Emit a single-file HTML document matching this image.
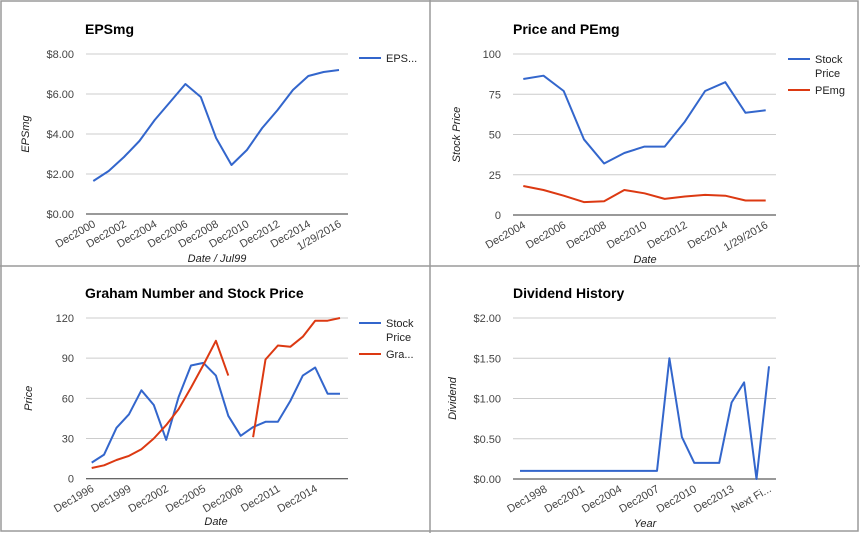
<!DOCTYPE html>
<html><head><meta charset="utf-8"><style>
html,body{margin:0;padding:0;background:#fff;}
svg{display:block;font-family:"Liberation Sans",Arial,sans-serif;}
</style></head><body>
<svg id="root" width="860" height="533" viewBox="0 0 860 533" xmlns="http://www.w3.org/2000/svg">
<rect x="1" y="1" width="857" height="530" fill="#fff" stroke="#9a9a9a" stroke-width="1.5"/>
<line x1="430" y1="0" x2="430" y2="533" stroke="#9a9a9a" stroke-width="1.5"/>
<line x1="0" y1="266" x2="860" y2="266" stroke="#9a9a9a" stroke-width="1.5"/>
</svg>
<script>
// ---- Chart 1: EPSmg ----
const epsCategories = ["Dec2000","Dec2001","Dec2002","Dec2003","Dec2004","Dec2005","Dec2006","Dec2007","Dec2008","Dec2009","Dec2010","Dec2011","Dec2012","Dec2013","Dec2014","Dec2015","1/29/2016"];
const epsValues = [1.65,2.15,2.85,3.65,4.7,5.6,6.5,5.85,3.8,2.45,3.2,4.3,5.2,6.2,6.9,7.1,7.2];
const epsTicks = [0,2,4,6,8];
const epsTickLabels = ["$0.00","$2.00","$4.00","$6.00","$8.00"];
const epsLabelIdx = [0,2,4,6,8,10,12,14,16];

// ---- Chart 2: Price and PEmg ----
const pmCategories = ["Dec2004","Dec2005","Dec2006","Dec2007","Dec2008","Dec2009","Dec2010","Dec2011","Dec2012","Dec2013","Dec2014","Dec2015","1/29/2016"];
const pmPrice = [84.5,86.5,77,47,32,38.5,42.5,42.5,58,77,82.5,63.5,65];
const pmPE = [18,15.5,12,8,8.5,15.5,13.5,10,11.5,12.5,12,9,9];
const pmTicks = [0,25,50,75,100];
const pmTickLabels = ["0","25","50","75","100"];
const pmLabelIdx = [0,2,4,6,8,10,12];

// ---- Chart 3: Graham Number and Stock Price ----
const grCategories = ["Dec1996","Dec1997","Dec1998","Dec1999","Dec2000","Dec2001","Dec2002","Dec2003","Dec2004","Dec2005","Dec2006","Dec2007","Dec2008","Dec2009","Dec2010","Dec2011","Dec2012","Dec2013","Dec2014","Dec2015","1/29/2016"];
const grPrice = [12,18,38,48,66,55,29,61,84.5,86.5,77,47,32,38.5,42.5,42.5,58,77,83,63.5,63.5];
const grGraham = [8,10,14,17,22,30,40,52,68,85,103,77,null,31,89,99.5,98.5,106,118,118,120];
const grTicks = [0,30,60,90,120];
const grTickLabels = ["0","30","60","90","120"];
const grLabelIdx = [0,3,6,9,12,15,18];

// ---- Chart 4: Dividend History ----
const dvCategories = ["Dec1996","Dec1997","Dec1998","Dec1999","Dec2000","Dec2001","Dec2002","Dec2003","Dec2004","Dec2005","Dec2006","Dec2007","Dec2008","Dec2009","Dec2010","Dec2011","Dec2012","Dec2013","Dec2014","Dec2015","Next Fi..."];
const dvValues = [0.1,0.1,0.1,0.1,0.1,0.1,0.1,0.1,0.1,0.1,0.1,0.1,1.5,0.52,0.2,0.2,0.2,0.95,1.2,0,1.4];
const dvTicks = [0,0.5,1,1.5,2];
const dvTickLabels = ["$0.00","$0.50","$1.00","$1.50","$2.00"];
const dvLabelIdx = [2,5,8,11,14,17,20];

const NS = "http://www.w3.org/2000/svg";
const root = document.getElementById("root");
function mk(tag, attrs, parent, text){
  const e = document.createElementNS(NS, tag);
  for (const k in attrs) e.setAttribute(k, attrs[k]);
  if (text !== undefined) e.textContent = text;
  parent.appendChild(e);
  return e;
}

function drawChart(cfg){
  const g = mk("g", {}, root);
  
  
  const n = cfg.categories.length;
  const xs = i => cfg.x0 + (cfg.x1 - cfg.x0) * i / (n - 1);
  const ys = v => cfg.yBottom - (cfg.yBottom - cfg.yTop) * (v - cfg.ticks[0]) / (cfg.ticks[cfg.ticks.length-1] - cfg.ticks[0]);
  const title = mk("text", {x: cfg.titleX, y: cfg.titleY, "font-size": 14, "font-weight": "bold", fill: "#000"}, g, cfg.title);
  
  
  cfg.ticks.forEach((t, k) => {
    const y = ys(t);
    const gl = mk("line", {x1: cfg.gx0, x2: cfg.gx1, y1: y, y2: y, stroke: k === 0 ? "#333" : "#ccc", "stroke-width": 1}, g);
    
    
    const tl = mk("text", {x: cfg.gx0 - 12, y: y + 4, "font-size": 11, fill: "#444", "text-anchor": "end"}, g, cfg.tickLabels[k]);
    
    
  });
  cfg.labelIdx.forEach(i => {
    const x = xs(i) + 3, y = cfg.yBottom + 12;
    const xl = mk("text", {x: x, y: y, "font-size": 11, fill: "#444", "text-anchor": "end", transform: `rotate(-30 ${x} ${y})`}, g, cfg.categories[i]);
    
    
  });
  const yt = mk("text", {x: cfg.yTitleX, y: (cfg.yTop + cfg.yBottom)/2, "font-size": 11, "font-style": "italic", fill: "#222", "text-anchor": "middle", transform: `rotate(-90 ${cfg.yTitleX} ${(cfg.yTop + cfg.yBottom)/2})`}, g, cfg.yTitle);
  
  
  const xt = mk("text", {x: cfg.xTitleX, y: cfg.xTitleY, "font-size": 11, "font-style": "italic", fill: "#222", "text-anchor": "middle"}, g, cfg.xTitle);
  
  
  cfg.series.forEach((s, si) => {
    let segs = [], cur = [];
    s.values.forEach((v, i) => {
      if (v === null) { if (cur.length) segs.push(cur); cur = []; }
      else cur.push(xs(i).toFixed(1) + "," + ys(v).toFixed(1));
    });
    if (cur.length) segs.push(cur);
    segs.forEach(sg => {
      const p = mk("polyline", {points: sg.join(" "), fill: "none", stroke: s.color, "stroke-width": 2, "stroke-linejoin": "round"}, g);
      
      
    });
    const ly = cfg.legendY + s.legendOffset;
    const ll = mk("line", {x1: cfg.legendX, x2: cfg.legendX + 22, y1: ly, y2: ly, stroke: s.color, "stroke-width": 2}, g);
    
    
    s.legend.forEach((line, li) => {
      const lt = mk("text", {x: cfg.legendX + 27, y: ly + 4 + li * 14, "font-size": 11, fill: "#222"}, g, line);
      
      
    });
  });
}

drawChart({name:"epsmg-chart", title:"EPSmg", titleX:85, titleY:34, categories:epsCategories, ticks:epsTicks, tickLabels:epsTickLabels, labelIdx:epsLabelIdx,
  x0:93.3, x1:339, gx0:86, gx1:348, yTop:54, yBottom:214, yTitle:"EPSmg", yTitleX:29, xTitle:"Date / Jul99", xTitleX:217, xTitleY:262,
  legendX:359, legendY:58, series:[{id:"eps", values:epsValues, color:"#3366cc", legend:["EPS..."], legendOffset:0}]});

drawChart({name:"price-pemg-chart", title:"Price and PEmg", titleX:513, titleY:34, categories:pmCategories, ticks:pmTicks, tickLabels:pmTickLabels, labelIdx:pmLabelIdx,
  x0:523.3, x1:765.7, gx0:513, gx1:776, yTop:54, yBottom:215, yTitle:"Stock Price", yTitleX:460, xTitle:"Date", xTitleX:645, xTitleY:263,
  legendX:788, legendY:59, series:[
    {id:"stock-price", values:pmPrice, color:"#3366cc", legend:["Stock","Price"], legendOffset:0},
    {id:"pemg", values:pmPE, color:"#dc3912", legend:["PEmg"], legendOffset:31}]});

drawChart({name:"graham-chart", title:"Graham Number and Stock Price", titleX:85, titleY:298, categories:grCategories, ticks:grTicks, tickLabels:grTickLabels, labelIdx:grLabelIdx,
  x0:91.7, x1:340, gx0:86, gx1:348, yTop:318, yBottom:478.7, yTitle:"Price", yTitleX:32, xTitle:"Date", xTitleX:216, xTitleY:525,
  legendX:359, legendY:323, series:[
    {id:"stock-price", values:grPrice, color:"#3366cc", legend:["Stock","Price"], legendOffset:0},
    {id:"graham-number", values:grGraham, color:"#dc3912", legend:["Gra..."], legendOffset:31}]});

drawChart({name:"dividend-chart", title:"Dividend History", titleX:513, titleY:298, categories:dvCategories, ticks:dvTicks, tickLabels:dvTickLabels, labelIdx:dvLabelIdx,
  x0:520, x1:769, gx0:513, gx1:776, yTop:318, yBottom:479, yTitle:"Dividend", yTitleX:456, xTitle:"Year", xTitleX:645, xTitleY:527,
  legendX:2000, legendY:0, series:[{id:"dividend", values:dvValues, color:"#3366cc", legend:[], legendOffset:0}]});
</script>
</body></html>
